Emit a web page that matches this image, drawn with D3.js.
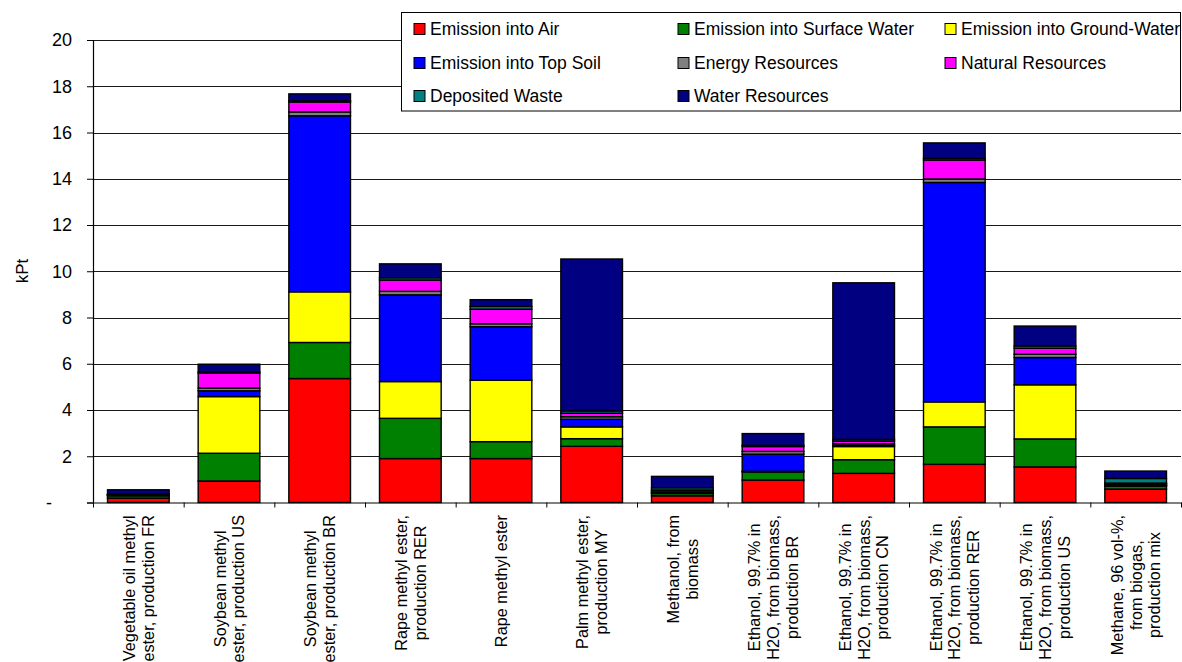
<!DOCTYPE html>
<html>
<head>
<meta charset="utf-8">
<script src="https://cdn.jsdelivr.net/npm/d3@7"></script>
<style>
  html, body { margin: 0; padding: 0; background: #fff; }
  svg { display: block; font-family: "Liberation Sans", Arial, sans-serif; }
</style>
</head>
<body>
<svg id="chart" width="1182" height="662"></svg>
<script>
// Fuel products (x axis), one label line per array entry
const categories = [
  ["Vegetable oil methyl", "ester, production FR"],
  ["Soybean methyl", "ester, production US"],
  ["Soybean methyl", "ester, production BR"],
  ["Rape methyl ester,", "production RER"],
  ["Rape methyl ester"],
  ["Palm methyl ester,", "production MY"],
  ["Methanol, from", "biomass"],
  ["Ethanol, 99.7% in", "H2O, from biomass,", "production BR"],
  ["Ethanol, 99.7% in", "H2O, from biomass,", "production CN"],
  ["Ethanol, 99.7% in", "H2O, from biomass,", "production RER"],
  ["Ethanol, 99.7% in", "H2O, from biomass,", "production US"],
  ["Methane, 96 vol-%,", "from biogas,", "production mix"]
];

const seriesNames = [
  "Emission into Air", "Emission into Surface Water", "Emission into Ground-Water",
  "Emission into Top Soil", "Energy Resources", "Natural Resources",
  "Deposited Waste", "Water Resources"
];
const seriesColors = ["#ff0000", "#008000", "#ffff00", "#0000ff", "#808080", "#ff00ff", "#008080", "#000080"];

// kPt per impact category, one value per product
const emissionAir     = [0.19, 0.93, 5.36, 1.90, 1.90, 2.43, 0.29, 0.97, 1.26, 1.65, 1.54, 0.58];
const emissionSurface = [0.10, 1.20, 1.56, 1.74, 0.73, 0.33, 0.10, 0.35, 0.59, 1.62, 1.21, 0.13];
const emissionGround  = [0.02, 2.45, 2.19, 1.59, 2.66, 0.51, 0.02, 0.03, 0.57, 1.08, 2.34, 0.02];
const emissionSoil    = [0.01, 0.25, 7.61, 3.75, 2.31, 0.33, 0.02, 0.74, 0.05, 9.49, 1.18, 0.02];
const energyRes       = [0.02, 0.12, 0.17, 0.15, 0.13, 0.11, 0.07, 0.12, 0.07, 0.15, 0.14, 0.06];
const naturalRes      = [0.01, 0.65, 0.43, 0.49, 0.63, 0.15, 0.04, 0.21, 0.12, 0.82, 0.26, 0.03];
const depositedWaste  = [0.02, 0.05, 0.05, 0.10, 0.12, 0.10, 0.10, 0.05, 0.07, 0.07, 0.10, 0.20];
const waterRes        = [0.18, 0.33, 0.30, 0.60, 0.29, 6.57, 0.49, 0.51, 6.77, 0.67, 0.86, 0.32];

const seriesValues = [emissionAir, emissionSurface, emissionGround, emissionSoil,
                      energyRes, naturalRes, depositedWaste, waterRes];

const yTicks = [0, 2, 4, 6, 8, 10, 12, 14, 16, 18, 20];

// ---- layout ----
const svg = d3.select("#chart");
const plotLeft = 93, plotRight = 1181, plotTop = 40, plotBottom = 502.5;

const keys = categories.map((c, i) => "c" + i);
const rows = keys.map((k, i) => {
  const r = { key: k };
  seriesNames.forEach((s, j) => { r[s] = seriesValues[j][i]; });
  return r;
});

const x = d3.scaleBand().domain(keys).range([plotLeft, plotRight]).paddingInner(0.32).paddingOuter(0.16);
const y = d3.scaleLinear().domain([0, 20]).range([plotBottom, plotTop]);
const bounds = d3.scaleLinear().domain([0, categories.length]).range([plotLeft, plotRight]);

// gridlines
svg.append("g")
  .attr("transform", `translate(${plotLeft},0)`)
  .call(d3.axisLeft(y).tickValues(yTicks.filter(v => v > 0)).tickSize(-(plotRight - plotLeft)).tickFormat(""))
  .call(g => g.select(".domain").remove())
  .call(g => g.selectAll("line").attr("stroke", "#1a1a1a").attr("stroke-width", 1).attr("shape-rendering", "crispEdges"));

// stacked bars
const stacked = d3.stack().keys(seriesNames)(rows);
svg.append("g").selectAll("g")
  .data(stacked)
  .join("g")
  .attr("fill", (d, i) => seriesColors[i])
  .selectAll("rect")
  .data(d => d)
  .join("rect")
  .attr("x", d => x(d.data.key))
  .attr("width", x.bandwidth())
  .attr("y", d => y(d[1]))
  .attr("height", d => Math.max(0, y(d[0]) - y(d[1])))
  .attr("stroke", "#000")
  .attr("stroke-width", 1.4);

// y axis
const yAxis = svg.append("g")
  .attr("transform", `translate(${plotLeft},0)`)
  .call(d3.axisLeft(y).tickValues(yTicks).tickFormat(d => d === 0 ? "-" : d).tickSize(6).tickPadding(15));
yAxis.select(".domain").attr("stroke", "#000").attr("stroke-width", 1.2);
yAxis.selectAll("line").attr("stroke", "#000");
yAxis.selectAll("text").attr("font-size", 18).attr("fill", "#000")
  .attr("font-family", "Liberation Sans, Arial, sans-serif");
yAxis.selectAll(".tick").filter(d => d === 0).select("text").attr("x", -41);

// x axis with ticks between categories
const xAxis = svg.append("g")
  .attr("transform", `translate(0,${plotBottom})`)
  .call(d3.axisBottom(bounds).tickValues(d3.range(categories.length + 1)).tickFormat("").tickSize(5).tickSizeOuter(0));
xAxis.select(".domain").attr("stroke", "#000").attr("stroke-width", 1.2);
xAxis.selectAll("line").attr("stroke", "#000");

// y axis title
svg.append("text")
  .attr("transform", `translate(28,271) rotate(-90)`)
  .attr("text-anchor", "middle")
  .attr("font-size", 17)
  .text("kPt");

// category labels, rotated, lines centred on each other
const fs = 16.3, lh = 18.7;
const labelGroups = svg.append("g").selectAll("g")
  .data(categories)
  .join("g");
labelGroups.each(function (lines, i) {
  const g = d3.select(this);
  const cx = x(keys[i]) + x.bandwidth() / 2;
  const t = g.append("text")
    .attr("font-size", fs)
    .attr("text-anchor", "middle");
  lines.forEach((ln, j) => {
    t.append("tspan")
      .attr("x", 0)
      .attr("y", (j - (lines.length - 1) / 2) * lh + fs * 0.36)
      .text(ln);
  });
  let maxLen = 0;
  t.selectAll("tspan").each(function () { maxLen = Math.max(maxLen, this.getComputedTextLength()); });
  g.attr("transform", `translate(${cx},${515 + maxLen / 2}) rotate(-90)`);
});

// legend
const legend = svg.append("g");
legend.append("rect")
  .attr("x", 401.5).attr("y", 12.5).attr("width", 779).attr("height", 98.5)
  .attr("fill", "#fff").attr("stroke", "#000").attr("stroke-width", 1);
const colX = [414, 678, 945], rowY = [29, 63, 96];
seriesNames.forEach((name, i) => {
  const cx = colX[i % 3], cy = rowY[Math.floor(i / 3)];
  legend.append("rect")
    .attr("x", cx).attr("y", cy - 5.5).attr("width", 11).attr("height", 11)
    .attr("fill", seriesColors[i]).attr("stroke", "#000").attr("stroke-width", 1);
  legend.append("text")
    .attr("x", cx + 16).attr("y", cy + 6)
    .attr("font-size", 17.5)
    .text(name);
});
</script>
</body>
</html>
